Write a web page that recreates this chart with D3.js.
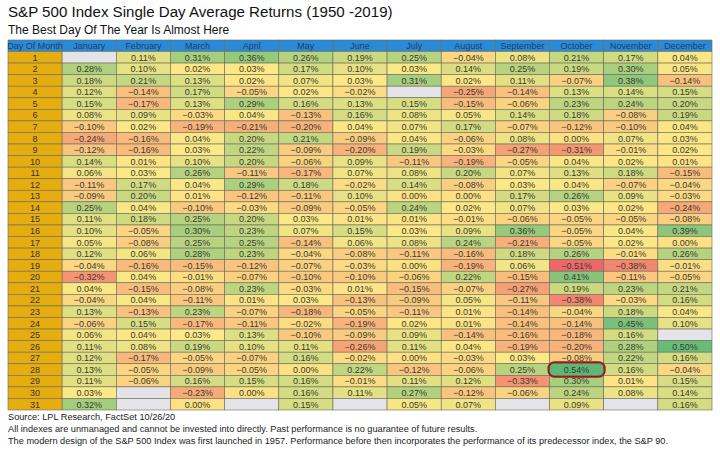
<!DOCTYPE html>
<html><head><meta charset="utf-8">
<script src="https://cdn.jsdelivr.net/npm/d3@7"></script>
<style>
html,body{margin:0;padding:0;background:#fff;}
svg{display:block;font-family:"Liberation Sans",Arial,sans-serif;}
</style></head>
<body>
<svg id="chart" width="720" height="455"></svg>
<script>
const title = "S&P 500 Index Single Day Average Returns (1950 -2019)";
const subtitle = "The Best Day Of The Year Is Almost Here";
const months = ["January","February","March","April","May","June","July","August","September","October","November","December"];
const days = d3.range(1, 32);
const N = null;
// rows = day of month, columns = months (values in %)
const jan = [N,0.28,0.18,0.12,0.15,0.08,-0.10,-0.24,-0.12,0.14,0.06,-0.11,-0.09,0.25,0.11,0.10,0.05,0.12,-0.04,-0.32,0.04,-0.04,0.13,-0.06,0.06,0.11,0.12,0.13,0.11,0.03,0.32];
const feb = [0.11,0.10,0.21,-0.14,-0.17,0.09,0.02,-0.16,-0.16,0.01,0.03,0.17,0.20,0.04,0.18,-0.05,-0.08,0.06,-0.16,0.04,-0.15,0.04,-0.13,0.15,0.04,0.08,-0.17,-0.05,-0.06,N,N];
const mar = [0.31,0.02,0.13,0.17,0.13,-0.03,-0.19,0.04,0.03,0.10,0.26,0.04,0.01,-0.10,0.25,0.30,0.25,0.28,-0.15,-0.01,-0.08,-0.11,0.23,-0.17,0.03,0.19,-0.05,-0.09,0.16,-0.23,0.00];
const apr = [0.36,0.03,0.02,-0.05,0.29,0.04,-0.21,0.20,0.22,0.20,-0.11,0.29,-0.12,-0.03,0.20,0.23,0.25,0.23,-0.12,-0.07,0.23,0.01,-0.07,-0.11,0.13,0.10,-0.07,-0.05,0.15,0.00,N];
const may = [0.26,0.17,0.07,0.02,0.16,-0.13,-0.20,0.21,-0.09,-0.06,-0.17,0.18,-0.11,-0.09,0.03,0.07,-0.14,-0.04,-0.07,-0.10,-0.03,0.03,-0.18,-0.02,-0.10,0.11,0.16,0.00,0.16,0.16,0.15];
const jun = [0.19,0.10,0.03,-0.02,0.13,0.16,0.04,-0.09,-0.20,0.09,0.07,-0.02,0.10,-0.05,0.01,0.15,0.06,-0.08,-0.03,-0.10,0.01,-0.13,-0.05,-0.19,-0.09,-0.26,-0.02,0.22,-0.01,0.11,N];
const jul = [0.25,0.03,0.31,N,0.15,0.08,0.07,0.04,0.19,-0.11,0.08,0.14,0.00,0.24,0.01,0.03,0.08,-0.11,0.00,-0.06,-0.15,-0.09,-0.11,0.02,0.09,0.11,0.00,-0.12,0.11,0.27,0.05];
const aug = [-0.04,0.14,0.02,-0.25,-0.15,0.05,0.17,-0.06,-0.03,-0.19,0.20,-0.08,0.00,0.02,-0.01,0.09,0.24,-0.16,-0.19,0.22,-0.07,0.05,0.01,0.01,-0.14,0.04,-0.03,-0.06,0.12,-0.12,0.07];
const sep = [0.08,0.25,0.11,-0.14,-0.06,0.14,-0.07,0.08,-0.27,-0.05,0.07,0.03,0.17,0.07,-0.06,0.36,-0.21,0.18,0.06,-0.15,-0.27,-0.11,-0.14,-0.14,-0.16,-0.19,0.03,0.25,-0.33,-0.06,N];
const oct = [0.21,0.19,-0.07,0.13,0.23,0.18,-0.12,0.00,-0.31,0.04,0.13,0.04,0.26,0.03,-0.05,-0.05,-0.05,0.26,-0.51,0.41,0.19,-0.38,-0.04,-0.14,-0.18,-0.20,-0.08,0.54,0.30,0.24,0.09];
const nov = [0.17,0.30,0.38,0.14,0.24,-0.08,-0.10,0.07,-0.01,0.02,0.18,-0.07,0.09,0.02,-0.05,0.04,0.02,-0.01,-0.38,-0.11,0.23,-0.03,0.18,0.45,0.16,0.28,0.22,0.16,0.01,0.08,N];
const dec = [0.04,0.05,-0.14,0.15,0.20,0.19,0.04,0.03,0.02,0.01,-0.15,-0.04,-0.03,-0.24,-0.08,0.39,0.00,0.26,-0.01,-0.05,0.21,0.16,0.04,0.10,N,0.50,0.16,-0.04,0.15,0.14,0.16];
const series = [jan,feb,mar,apr,may,jun,jul,aug,sep,oct,nov,dec];
const highlight = {month: "October", day: 28};
const footnotes = [
  "Source: LPL Research, FactSet 10/26/20",
  "All indexes are unmanaged and cannot be invested into directly. Past performance is no guarantee of future results.",
  "The modern design of the S&P 500 Index was first launched in 1957. Performance before then incorporates the performance of its predecessor index, the S&P 90."
];

const svg = d3.select("#chart");
svg.append("text").attr("x", 8).attr("y", 17).attr("font-size", 15.1).attr("fill", "#111").text(title);
svg.append("text").attr("x", 8).attr("y", 34).attr("font-size", 12).attr("fill", "#111").text(subtitle);

const left = 8, right = 712, headTop = 40, headH = 11.5, bodyTop = 51.5, bodyBottom = 410;
const cols = ["Day Of Month", ...months];
const x = d3.scaleBand().domain(cols).range([left, right]);
const y = d3.scaleBand().domain(days).range([bodyTop, bodyBottom]);

const cells = [];
series.forEach((s, i) => s.forEach((v, j) => cells.push({month: months[i], day: days[j], v})));
const vals = cells.filter(d => d.v !== null).map(d => d.v).sort(d3.ascending);
const vmin = d3.min(vals), vmax = d3.max(vals), vmid = d3.quantile(vals, 0.5);
const color = d3.scaleLinear().domain([vmin, vmid, vmax]).range(["#F0676A", "#FCE886", "#5DB877"]);

const border = "#6b6b5a";
// header
const head = svg.append("g");
head.selectAll("rect").data(cols).join("rect")
  .attr("x", d => x(d)).attr("y", headTop).attr("width", x.bandwidth()).attr("height", headH)
  .attr("fill", "#2b8ad6").attr("stroke", border).attr("stroke-width", 0.6);
head.selectAll("text").data(cols).join("text")
  .attr("x", d => x(d) + x.bandwidth() / 2).attr("y", headTop + headH / 2 + 3.3)
  .attr("text-anchor", "middle").attr("font-size", 9).attr("fill", "#1c3f6e").text(d => d);

// day column
const dayG = svg.append("g");
dayG.selectAll("rect").data(days).join("rect")
  .attr("x", x("Day Of Month")).attr("y", d => y(d)).attr("width", x.bandwidth()).attr("height", y.bandwidth())
  .attr("fill", "#e5ad10").attr("stroke", border).attr("stroke-width", 0.6);
dayG.selectAll("text").data(days).join("text")
  .attr("x", x("Day Of Month") + x.bandwidth() / 2).attr("y", d => y(d) + y.bandwidth() / 2 + 3.3)
  .attr("text-anchor", "middle").attr("font-size", 9).attr("fill", "#3a3326").text(d => d);

// value cells
const cg = svg.append("g");
cg.selectAll("rect").data(cells).join("rect")
  .attr("x", d => x(d.month)).attr("y", d => y(d.day)).attr("width", x.bandwidth()).attr("height", y.bandwidth())
  .attr("fill", d => d.v === null ? "#e4e4e8" : color(d.v)).attr("stroke", border).attr("stroke-width", 0.6);
cg.selectAll("text").data(cells.filter(d => d.v !== null)).join("text")
  .attr("x", d => x(d.month) + x.bandwidth() / 2).attr("y", d => y(d.day) + y.bandwidth() / 2 + 3.3)
  .attr("text-anchor", "middle").attr("font-size", 9).attr("fill", "#3b3b2e")
  .text(d => d3.format(".2f")(d.v) + "%");

// highlight
svg.append("rect")
  .attr("x", x(highlight.month) - 1).attr("y", y(highlight.day) - 1.5)
  .attr("width", x.bandwidth() + 2).attr("height", y.bandwidth() + 3)
  .attr("rx", 6).attr("fill", "none").attr("stroke", "#981b1b").attr("stroke-width", 2);

// footnotes
svg.selectAll("text.foot").data(footnotes).join("text").attr("class", "foot")
  .attr("x", 8).attr("y", (d, i) => 419.5 + i * 12).attr("font-size", 9.2).attr("fill", "#222").text(d => d);
</script>
</body></html>
